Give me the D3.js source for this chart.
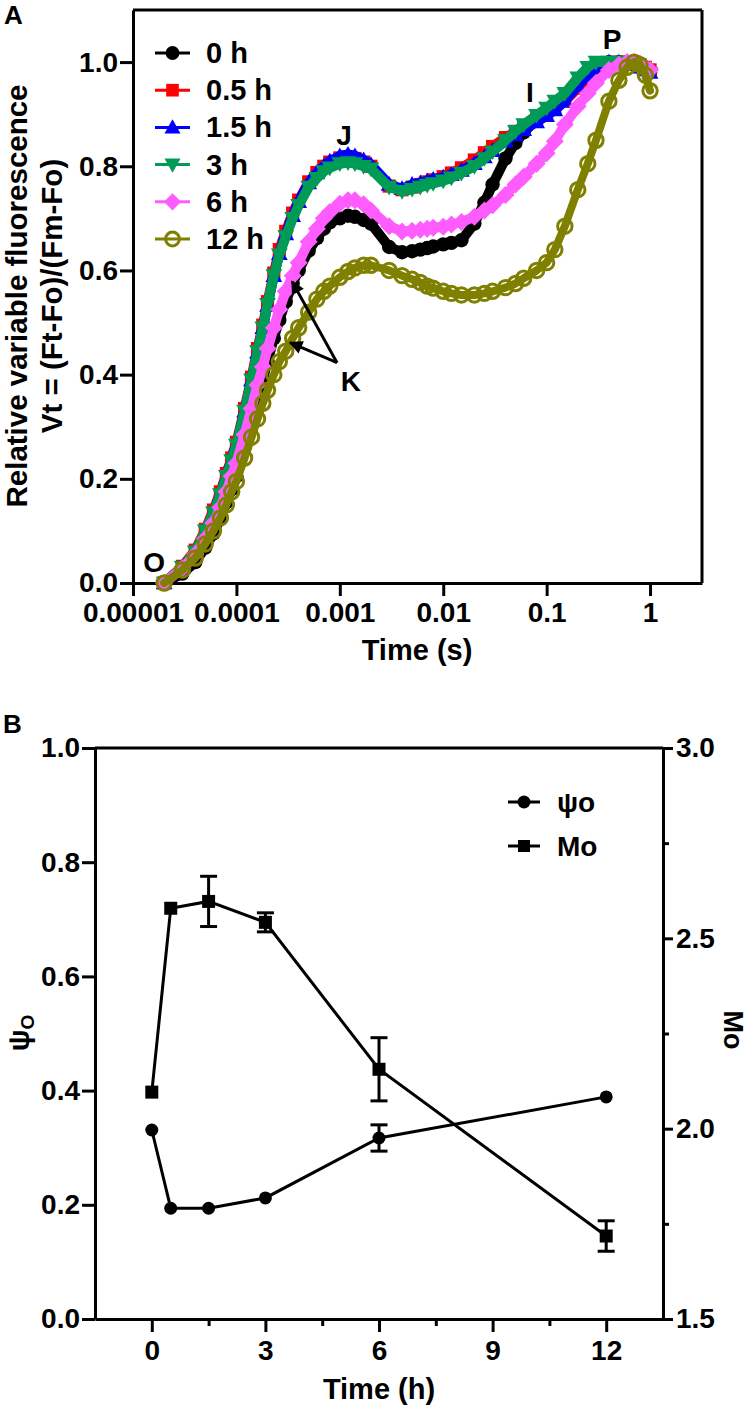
<!DOCTYPE html>
<html>
<head>
<meta charset="utf-8">
<script src="https://cdn.jsdelivr.net/npm/d3@7/dist/d3.min.js"></script>
<style>
html,body{margin:0;padding:0;background:#fff;}
svg text{font-family:"Liberation Sans",Arial,Helvetica,sans-serif;font-weight:bold;fill:#000;}
</style>
</head>
<body>
<svg id="fig" width="750" height="1406"></svg>
<script>
// ================= DATA: panel A (OJIP transients) =================
const timeS = [2e-5,3e-5,4e-5,5e-5,6e-5,7e-5,8e-5,9e-5,1e-4,1.2e-4,1.4e-4,1.6e-4,1.8e-4,2e-4,2.3e-4,2.6e-4,3e-4,3.5e-4,4e-4,5e-4,6e-4,7e-4,8e-4,1e-3,1.2e-3,1.4e-3,1.7e-3,2e-3,3e-3,4e-3,5e-3,6e-3,7e-3,8e-3,1e-2,1.2e-2,1.5e-2,2e-2,2.5e-2,3e-2,4e-2,5e-2,6e-2,8e-2,0.1,0.12,0.15,0.2,0.25,0.3,0.4,0.5,0.6,0.7,0.8,0.9,1.0];
const vt0h  = [0,0.018,0.04,0.068,0.095,0.125,0.155,0.18,0.205,0.26,0.305,0.35,0.39,0.425,0.47,0.505,0.54,0.575,0.60,0.638,0.662,0.68,0.692,0.70,0.705,0.703,0.697,0.69,0.645,0.635,0.637,0.64,0.643,0.646,0.65,0.653,0.658,0.69,0.73,0.765,0.815,0.845,0.865,0.89,0.905,0.915,0.935,0.96,0.98,0.99,1.0,1.0,0.998,0.995,0.99,0.985,0.98];
const vt05h = [0,0.032,0.063,0.103,0.14,0.175,0.21,0.24,0.27,0.335,0.395,0.45,0.495,0.54,0.595,0.64,0.675,0.71,0.735,0.77,0.788,0.80,0.808,0.816,0.818,0.815,0.808,0.80,0.762,0.755,0.76,0.765,0.77,0.774,0.78,0.787,0.797,0.812,0.826,0.838,0.855,0.867,0.876,0.89,0.90,0.91,0.925,0.95,0.97,0.985,0.997,1.0,1.0,1.0,0.995,0.99,0.985];
const vt15h = [0,0.03,0.06,0.098,0.135,0.17,0.203,0.235,0.265,0.33,0.39,0.443,0.49,0.533,0.59,0.632,0.67,0.705,0.732,0.768,0.788,0.80,0.81,0.82,0.823,0.82,0.812,0.803,0.765,0.757,0.765,0.768,0.772,0.775,0.779,0.784,0.792,0.805,0.818,0.83,0.848,0.86,0.87,0.885,0.897,0.908,0.925,0.955,0.975,0.99,1.0,1.0,1.0,0.998,0.99,0.985,0.98];
const vt3h  = [0,0.03,0.06,0.10,0.135,0.17,0.205,0.235,0.265,0.33,0.39,0.445,0.49,0.535,0.59,0.63,0.665,0.70,0.725,0.76,0.777,0.79,0.797,0.805,0.807,0.805,0.80,0.795,0.76,0.752,0.756,0.76,0.764,0.767,0.772,0.778,0.787,0.80,0.815,0.828,0.85,0.867,0.88,0.898,0.912,0.925,0.94,0.97,0.99,1.0,1.0,1.0,1.0,0.998,0.99,0.985,0.978];
const vt6h  = [0,0.028,0.055,0.085,0.115,0.145,0.175,0.205,0.23,0.285,0.335,0.38,0.415,0.45,0.49,0.525,0.56,0.59,0.615,0.655,0.68,0.70,0.712,0.728,0.735,0.735,0.727,0.715,0.685,0.675,0.676,0.678,0.68,0.682,0.684,0.688,0.693,0.703,0.715,0.725,0.745,0.765,0.78,0.805,0.825,0.848,0.88,0.915,0.94,0.96,0.985,0.995,1.0,1.0,0.997,0.99,0.985];
const vt12h = [0,0.025,0.048,0.075,0.10,0.125,0.15,0.175,0.195,0.24,0.28,0.315,0.345,0.37,0.40,0.425,0.445,0.47,0.49,0.52,0.545,0.56,0.57,0.587,0.598,0.605,0.61,0.61,0.60,0.59,0.583,0.577,0.57,0.566,0.56,0.556,0.553,0.553,0.556,0.56,0.567,0.575,0.585,0.60,0.615,0.64,0.685,0.755,0.805,0.85,0.925,0.965,0.99,1.0,0.995,0.975,0.945];
const seriesLabels = ["0 h","0.5 h","1.5 h","3 h","6 h","12 h"];
const xTicksA = [1e-5,1e-4,1e-3,1e-2,1e-1,1];
const xTickLabelsA = ["0.00001","0.0001","0.001","0.01","0.1","1"];
const yTicksA = [0,0.2,0.4,0.6,0.8,1.0];
const phaseNames = ["O","J","I","P","K"];
const phaseT = [1.6e-5,1.1e-3,0.069,0.43,1.28e-3];
const phaseV = [0.04,0.86,0.942,1.044,0.387];
const kArrowFrom = [9.4e-4,0.423];
const kArrowToT = [3.45e-4,3.3e-4];
const kArrowToV = [0.579,0.4615];

// ================= DATA: panel B =================
const hoursB = [0,0.5,1.5,3,6,12];
const psiO = [0.331,0.194,0.194,0.212,0.317,0.389];
const psiOErr = [0,0,0,0,0.023,0];
const mO = [2.096,2.579,2.597,2.542,2.156,1.718];
const mOErr = [0,0,0.066,0.025,0.083,0.04];
const xTicksB = [0,3,6,9,12];
const xMinorB = [1.5,4.5,7.5,10.5];
const yTicksBL = [0,0.2,0.4,0.6,0.8,1.0];
const yTicksBR = [1.5,2.0,2.5,3.0];
const yMinorBR = [1.75,2.25,2.75];
const legendB = ["ψo","Mo"];

// ================= STYLE =================
const seriesValues = [vt0h,vt05h,vt15h,vt3h,vt6h,vt12h];
const seriesColors = ["#000000","#FF0000","#0000FF","#009B55","#FF5CFF","#808000"];
const seriesShapes = ["circle","square","up","down","diamond","ocircle"];
const seriesLineW = [10,10,10,10,10,8];
const FS = 28;

function symPath(shape, s){
  if(shape==="circle"||shape==="ocircle"){const r=6*s;return `M${r},0A${r},${r} 0 1,1 ${-r},0A${r},${r} 0 1,1 ${r},0Z`;}
  if(shape==="square"){const h=5.5*s;return `M${-h},${-h}H${h}V${h}H${-h}Z`;}
  if(shape==="up"){const h=7*s;return `M0,${-h}L${h},${h*0.75}L${-h},${h*0.75}Z`;}
  if(shape==="down"){const h=7*s;return `M0,${h}L${h},${-h*0.75}L${-h},${-h*0.75}Z`;}
  if(shape==="diamond"){const h=7.5*s;return `M0,${-h}L${h},0L0,${h}L${-h},0Z`;}
}
function drawSym(g, shape, color, x, y, s){
  const p = g.append("path").attr("d", symPath(shape,s)).attr("transform",`translate(${x},${y})`);
  if(shape==="ocircle") p.attr("fill","none").attr("stroke",color).attr("stroke-width",3);
  else p.attr("fill",color).attr("stroke","none");
}
function styleAxis(g){
  g.attr("font-family","Liberation Sans, Arial, sans-serif").attr("font-size",FS).attr("font-weight","bold");
  g.selectAll(".domain").attr("stroke","#000").attr("stroke-width",3);
  g.selectAll(".tick line").attr("stroke","#000").attr("stroke-width",3);
  g.selectAll(".tick text").attr("fill","#000");
}

const svg = d3.select("#fig");
svg.append("rect").attr("width",750).attr("height",1406).attr("fill","#fff");

// ================= PANEL A =================
const A = {left:133, right:702, top:10, bottom:583};
const xA = d3.scaleLog().domain([1e-5, 3.18]).range([A.left, A.right]);
const yA = d3.scaleLinear().domain([0, 1.1]).range([A.bottom, A.top]);
const gA = svg.append("g");

gA.append("line").attr("x1",A.left).attr("x2",A.right).attr("y1",A.top).attr("y2",A.top).attr("stroke","#000").attr("stroke-width",3);
gA.append("line").attr("x1",A.right).attr("x2",A.right).attr("y1",A.top).attr("y2",A.bottom).attr("stroke","#000").attr("stroke-width",3);

const axLA = gA.append("g").attr("transform",`translate(${A.left},0)`)
  .call(d3.axisLeft(yA).tickValues(yTicksA).tickSize(13).tickSizeOuter(0).tickPadding(2).tickFormat(d3.format(".1f")));
styleAxis(axLA);
const axBA = gA.append("g").attr("transform",`translate(0,${A.bottom})`)
  .call(d3.axisBottom(xA).tickValues(xTicksA).tickSize(13).tickSizeOuter(0).tickPadding(6).tickFormat((d,i)=>xTickLabelsA[i]));
styleAxis(axBA);

const lineA = d3.line().x((d,i)=>xA(timeS[i])).y(d=>yA(d));
seriesValues.forEach((vals,si)=>{
  const g = gA.append("g");
  g.append("path").attr("d", lineA(vals)).attr("fill","none").attr("stroke",seriesColors[si])
    .attr("stroke-width", seriesLineW[si]).attr("stroke-linejoin","round").attr("stroke-linecap","round");
  vals.forEach((v,i)=>drawSym(g, seriesShapes[si], seriesColors[si], xA(timeS[i]), yA(v), 1.2));
});

seriesLabels.forEach((lab,i)=>{
  const y = 53 + i*37.2;
  gA.append("line").attr("x1",155).attr("x2",190).attr("y1",y).attr("y2",y).attr("stroke",seriesColors[i]).attr("stroke-width",3);
  drawSym(gA, seriesShapes[i], seriesColors[i], 172.5, y, 1.15);
  gA.append("text").attr("x",206).attr("y",y).attr("dominant-baseline","central").attr("font-size",29).text(lab);
});

phaseNames.forEach((n,i)=>{
  gA.append("text").attr("x",xA(phaseT[i])).attr("y",yA(phaseV[i])).attr("text-anchor","middle")
    .attr("dominant-baseline","central").attr("font-size",28).text(n);
});
const defs = svg.append("defs");
defs.append("marker").attr("id","ah").attr("viewBox","0 0 10 10").attr("refX",9).attr("refY",5)
  .attr("markerWidth",5).attr("markerHeight",4.5).attr("markerUnits","strokeWidth").attr("orient","auto")
  .append("path").attr("d","M0,0L10,5L0,10Z").attr("fill","#000");
kArrowToT.forEach((t,i)=>{
  gA.append("line").attr("x1",xA(kArrowFrom[0])).attr("y1",yA(kArrowFrom[1])).attr("x2",xA(t)).attr("y2",yA(kArrowToV[i]))
    .attr("stroke","#000").attr("stroke-width",3).attr("marker-end","url(#ah)");
});

gA.append("text").attr("x",417).attr("y",660).attr("text-anchor","middle").attr("font-size",29).text("Time (s)");
gA.append("text").attr("transform","translate(27,296) rotate(-90)").attr("text-anchor","middle").attr("font-size",29.5).text("Relative variable fluorescence");
gA.append("text").attr("transform","translate(62,296) rotate(-90)").attr("text-anchor","middle").attr("font-size",29.5).text("Vt = (Ft-Fo)/(Fm-Fo)");
gA.append("text").attr("x",4).attr("y",24).attr("font-size",26).text("A");

// ================= PANEL B =================
const B = {left:95, right:663, top:748, bottom:1319};
const xB = d3.scaleLinear().domain([-1.5,13.5]).range([B.left,B.right]);
const yBL = d3.scaleLinear().domain([0,1]).range([B.bottom,B.top]);
const yBR = d3.scaleLinear().domain([1.5,3.0]).range([B.bottom,B.top]);
const gB = svg.append("g");

gB.append("line").attr("x1",B.left).attr("x2",B.right).attr("y1",B.top).attr("y2",B.top).attr("stroke","#000").attr("stroke-width",3);

const axLB = gB.append("g").attr("transform",`translate(${B.left},0)`)
  .call(d3.axisLeft(yBL).tickValues(yTicksBL).tickSize(13).tickSizeOuter(0).tickPadding(2).tickFormat(d3.format(".1f")));
styleAxis(axLB);
const axRB = gB.append("g").attr("transform",`translate(${B.right},0)`)
  .call(d3.axisRight(yBR).tickValues(yTicksBR).tickSize(10).tickSizeOuter(0).tickPadding(3).tickFormat(d3.format(".1f")));
styleAxis(axRB);
const axRBm = gB.append("g").attr("transform",`translate(${B.right},0)`)
  .call(d3.axisRight(yBR).tickValues(yMinorBR).tickSize(6).tickSizeOuter(0).tickFormat(""));
styleAxis(axRBm); axRBm.select(".domain").remove();
const axBB = gB.append("g").attr("transform",`translate(0,${B.bottom})`)
  .call(d3.axisBottom(xB).tickValues(xTicksB).tickSize(13).tickSizeOuter(0).tickPadding(8).tickFormat(d3.format("d")));
styleAxis(axBB);
const axBBm = gB.append("g").attr("transform",`translate(0,${B.bottom})`)
  .call(d3.axisBottom(xB).tickValues(xMinorB).tickSize(7).tickSizeOuter(0).tickFormat(""));
styleAxis(axBBm); axBBm.select(".domain").remove();

function errBars(vals, errs, yS){
  vals.forEach((v,i)=>{
    if(!errs[i]) return;
    const x = xB(hoursB[i]);
    const y1 = yS(v-errs[i]), y2 = yS(v+errs[i]);
    gB.append("line").attr("x1",x).attr("x2",x).attr("y1",y1).attr("y2",y2).attr("stroke","#000").attr("stroke-width",3);
    [y1,y2].forEach(yy=>gB.append("line").attr("x1",x-8.5).attr("x2",x+8.5).attr("y1",yy).attr("y2",yy).attr("stroke","#000").attr("stroke-width",3));
  });
}
errBars(psiO, psiOErr, yBL);
errBars(mO, mOErr, yBR);
gB.append("path").attr("d", d3.line().x((d,i)=>xB(hoursB[i])).y(d=>yBL(d))(psiO)).attr("fill","none").attr("stroke","#000").attr("stroke-width",3);
gB.append("path").attr("d", d3.line().x((d,i)=>xB(hoursB[i])).y(d=>yBR(d))(mO)).attr("fill","none").attr("stroke","#000").attr("stroke-width",3);
psiO.forEach((v,i)=>gB.append("circle").attr("cx",xB(hoursB[i])).attr("cy",yBL(v)).attr("r",6.5).attr("fill","#000"));
mO.forEach((v,i)=>gB.append("rect").attr("x",xB(hoursB[i])-6.5).attr("y",yBR(v)-6.5).attr("width",13).attr("height",13).attr("fill","#000"));

legendB.forEach((lab,i)=>{
  const y = 802 + i*44;
  gB.append("line").attr("x1",508).attr("x2",540).attr("y1",y).attr("y2",y).attr("stroke","#000").attr("stroke-width",3);
  if(i===0) gB.append("circle").attr("cx",524).attr("cy",y).attr("r",6.5).attr("fill","#000");
  else gB.append("rect").attr("x",518).attr("y",y-6).attr("width",12).attr("height",12).attr("fill","#000");
  gB.append("text").attr("x",557).attr("y",y).attr("dominant-baseline","central").attr("font-size",28).text(lab);
});

gB.append("text").attr("x",379).attr("y",1399).attr("text-anchor","middle").attr("font-size",29).text("Time (h)");
const psiT = gB.append("text").attr("transform","translate(29,1033) rotate(-90)").attr("text-anchor","middle").attr("font-size",29);
psiT.append("tspan").text("ψ");
psiT.append("tspan").attr("font-size",19).attr("dy",5).text("O");
gB.append("text").attr("transform","translate(724,1030) rotate(90)").attr("text-anchor","middle").attr("font-size",27).text("Mo");
gB.append("text").attr("x",3).attr("y",733).attr("font-size",26).text("B");
</script>
</body>
</html>
